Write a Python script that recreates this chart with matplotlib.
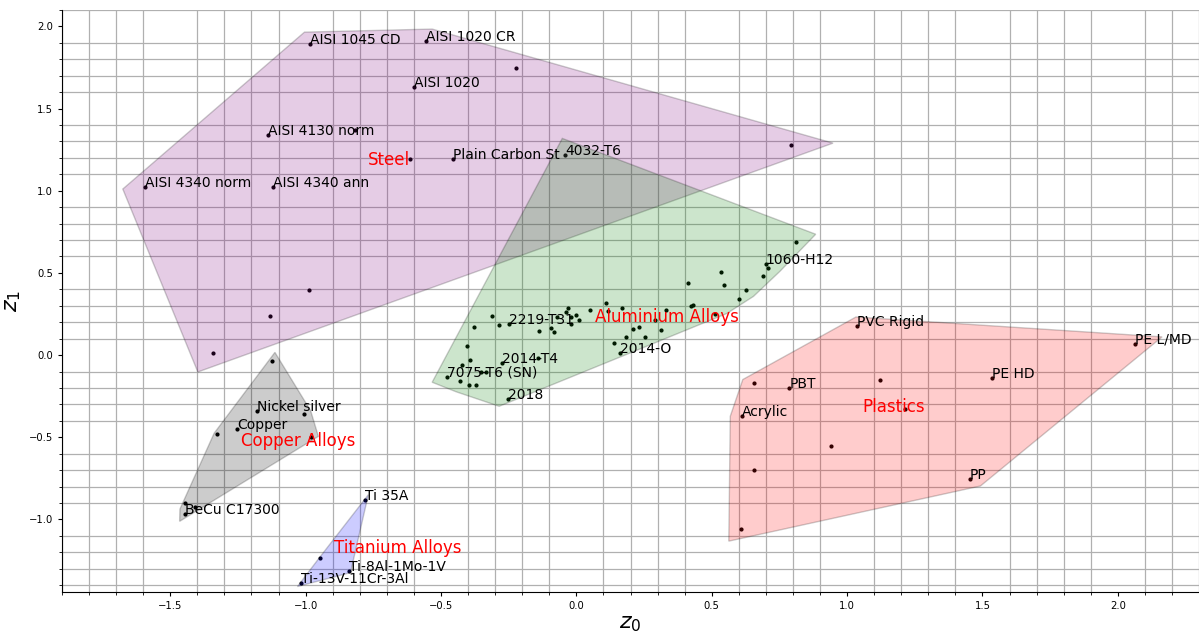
import numpy as np
import matplotlib
matplotlib.use("Agg")
import matplotlib.pyplot as plt
from matplotlib.patches import Polygon
from matplotlib.ticker import MultipleLocator

# material groups: z0, z1 and point labels ("" = unlabeled)
steel_z0 = [-0.983, -0.554, -0.224, -0.598, -1.140, -0.819, -0.615, -0.455,
            -1.593, -1.119, 0.792, -0.986, -1.131, -1.341]
steel_z1 = [1.892, 1.909, 1.745, 1.632, 1.339, 1.370, 1.191, 1.191,
            1.024, 1.024, 1.278, 0.394, 0.235, 0.012]
steel_names = ["AISI 1045 CD", "AISI 1020 CR", "", "AISI 1020", "AISI 4130 norm", "", "",
               "Plain Carbon St", "AISI 4340 norm", "AISI 4340 ann", "", "", "", ""]

alu_z0 = [-0.041, 0.810, 0.700, 0.708, 0.533, 0.690, 0.414, 0.546, 0.628, 0.601,
          0.431, 0.422, 0.511, 0.330, 0.290, 0.312, 0.230, 0.209, 0.252, 0.185,
          0.139, 0.160, 0.111, 0.168, 0.117, 0.050, -0.030, -0.037, 0.000, 0.010,
          -0.018, -0.018, -0.072, -0.094, -0.084, -0.138, -0.249, -0.287, -0.310, -0.378,
          -0.404, -0.394, -0.273, -0.142, -0.423, -0.478, -0.431, -0.397, -0.370, -0.351,
          -0.333, -0.253]
alu_z1 = [1.217, 0.687, 0.555, 0.530, 0.506, 0.482, 0.440, 0.429, 0.396, 0.343,
          0.307, 0.300, 0.248, 0.272, 0.215, 0.152, 0.171, 0.160, 0.112, 0.113,
          0.075, 0.012, 0.316, 0.287, 0.266, 0.274, 0.288, 0.260, 0.246, 0.215,
          0.229, 0.191, 0.229, 0.165, 0.138, 0.144, 0.191, 0.185, 0.238, 0.168,
          0.055, -0.029, -0.049, -0.018, -0.063, -0.132, -0.157, -0.185, -0.181, -0.104,
          -0.104, -0.265]
alu_names = ["4032-T6", "", "1060-H12", "", "", "", "", "", "", "",
             "", "", "", "", "", "", "", "", "", "",
             "", "2014-O", "", "", "", "", "", "", "", "",
             "", "", "", "", "", "", "2219-T31", "", "", "",
             "", "", "2014-T4", "", "", "7075-T6 (SN)", "", "", "", "",
             "", "2018"]

plastic_z0 = [1.035, 2.063, 1.536, 1.122, 0.655, 0.786, 0.613, 1.213, 0.942, 0.655, 1.453, 0.608]
plastic_z1 = [0.179, 0.069, -0.140, -0.151, -0.167, -0.199, -0.370, -0.329, -0.551, -0.698, -0.756, -1.061]
plastic_names = ["PVC Rigid", "PE L/MD", "PE HD", "", "", "PBT", "Acrylic", "", "", "", "PP", ""]

copper_z0 = [-1.125, -1.178, -1.005, -1.252, -1.329, -0.979, -1.444, -1.407, -1.445]
copper_z1 = [-0.035, -0.340, -0.358, -0.451, -0.482, -0.500, -0.902, -0.923, -0.970]
copper_names = ["", "Nickel silver", "", "Copper", "", "", "", "", "BeCu C17300"]

ti_z0 = [-0.780, -0.946, -0.840, -1.018]
ti_z1 = [-0.882, -1.234, -1.313, -1.390]
ti_names = ["Ti 35A", "", "Ti-8Al-1Mo-1V", "Ti-13V-11Cr-3Al"]

groups = [
    ("Steel", steel_z0, steel_z1, steel_names, "purple"),
    ("Aluminium Alloys", alu_z0, alu_z1, alu_names, "green"),
    ("Plastics", plastic_z0, plastic_z1, plastic_names, "red"),
    ("Copper Alloys", copper_z0, copper_z1, copper_names, "black"),
    ("Titanium Alloys", ti_z0, ti_z1, ti_names, "blue"),
]


def convex_hull(pts):
    # monotone chain
    pts = sorted(set(map(tuple, pts)))
    def cross(o, a, b):
        return (a[0] - o[0]) * (b[1] - o[1]) - (a[1] - o[1]) * (b[0] - o[0])
    lower, upper = [], []
    for p in pts:
        while len(lower) >= 2 and cross(lower[-2], lower[-1], p) <= 0:
            lower.pop()
        lower.append(p)
    for p in reversed(pts):
        while len(upper) >= 2 and cross(upper[-2], upper[-1], p) <= 0:
            upper.pop()
        upper.append(p)
    return np.array(lower[:-1] + upper[:-1])


fig = plt.figure(figsize=(11.99, 6.33), dpi=100)
ax = fig.add_axes([62 / 1199, 41.3 / 633, 1137 / 1199, 581.7 / 633])

for name, xs, ys, names, color in groups:
    xs = np.array(xs)
    ys = np.array(ys)
    ax.scatter(xs, ys, s=4, color="black", zorder=2)
    for lab, x, y in zip(names, xs, ys):
        if lab:
            ax.annotate(lab, (x, y), fontsize=10, zorder=3)
    cx, cy = xs.mean(), ys.mean()
    # hull blown up by 10% around the group mean
    hull = convex_hull(np.column_stack([xs, ys]))
    hull = np.column_stack([cx + 1.1 * (hull[:, 0] - cx), cy + 1.1 * (hull[:, 1] - cy)])
    ax.add_patch(Polygon(hull, closed=True, facecolor=color, edgecolor="black",
                         alpha=0.2, zorder=2.5))
    ax.text(cx, cy, name, color="red", fontsize=12, zorder=4)

ax.set_xlim(-1.9, 2.3)
ax.set_ylim(-1.44, 2.1)
ax.xaxis.set_major_locator(MultipleLocator(0.5))
ax.xaxis.set_minor_locator(MultipleLocator(0.1))
ax.yaxis.set_major_locator(MultipleLocator(0.5))
ax.yaxis.set_minor_locator(MultipleLocator(0.1))
ax.grid(which="minor", color="#b0b0b0", linewidth=0.9)
ax.set_axisbelow(True)
ax.tick_params(which="major", labelsize=7.2, length=3)
ax.tick_params(which="minor", length=2)
ax.spines["top"].set_visible(False)
ax.spines["right"].set_visible(False)
ax.set_xlabel("$z_0$", fontsize=16, labelpad=2)
ax.set_ylabel("$z_1$", fontsize=16, labelpad=4)

fig.savefig("out.png", dpi=100)
